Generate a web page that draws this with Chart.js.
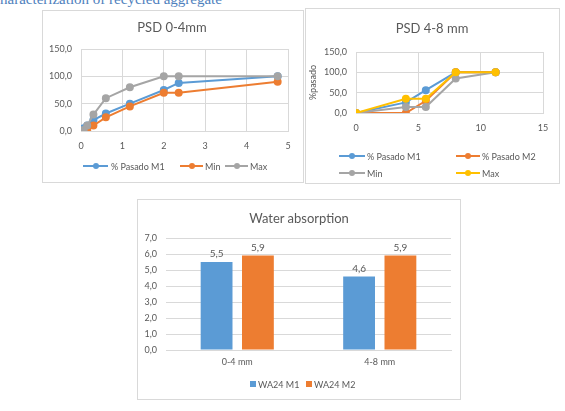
<!DOCTYPE html>
<html>
<head>
<meta charset="utf-8">
<script src="https://cdn.jsdelivr.net/npm/chart.js@4.4.1/dist/chart.umd.min.js"></script>
<style>
body { margin: 0; background: #fff; width: 565px; height: 411px; position: relative; overflow: hidden; font-family: Lato, sans-serif; color: #595959; }
.box { position: absolute; border: 1px solid #d9d9d9; box-sizing: border-box; background: #fff; }
.box canvas { position: absolute; left: 0; top: 0; }
.ttl { position: absolute; font-size: 13px; white-space: nowrap; transform: translate(-50%, -50%); }
.lg { position: absolute; font-size: 9px; white-space: nowrap; transform: translateY(-50%); }
#cap { position: absolute; left: 0; top: -8px; font: 15px "Liberation Serif", serif; line-height: 15px; color: #4f81bd; white-space: nowrap; }
</style>
</head>
<body>
<div id="cap">haracterization of recycled aggregate</div>

<div class="box" style="left:42px;top:10px;width:262px;height:173px"><canvas id="psd04" width="260" height="171"></canvas></div>
<div class="ttl" style="left:172px;top:27px">PSD 0-4mm</div>

<div class="box" style="left:305px;top:8px;width:255px;height:176px"><canvas id="psd48" width="253" height="174"></canvas></div>
<div class="ttl" style="left:432px;top:28px">PSD 4-8 mm</div>

<div class="box" style="left:137px;top:199px;width:324px;height:201px"><canvas id="absorcion" width="322" height="199"></canvas></div>
<div class="ttl" style="left:299px;top:218px">Water absorption</div>

<script>
// PSD 0-4mm
var tamiz04 = [0.063, 0.15, 0.3, 0.6, 1.18, 2, 2.36, 4.75];
var pasadoM1_04 = [5, 10, 20, 32, 50, 75, 88, 100];
var min04 = [0, 2, 10, 25, 45, 70, 70, 90];
var max04 = [2, 10, 30, 60, 80, 100, 100, 100];

// PSD 4-8 mm
var tamiz48 = [0, 4, 5.6, 8, 11.2];
var pasadoM1_48 = [0, 26, 56, 100, 100];
var pasadoM2_48 = [0, 0, 30, 100, 100];
var min48 = [0, 15, 15, 85, 100];
var max48 = [0, 35, 35, 100, 100];

// Water absorption
var categorias = ['0-4 mm', '4-8 mm'];
var wa24M1 = [5.5, 4.6];
var wa24M2 = [5.9, 5.9];

var azul = '#5b9bd5';
var naranja = '#ed7d31';
var gris = '#a5a5a5';
var amarillo = '#ffc000';
var rejilla = '#d9d9d9';
var fuente = { family: 'Lato', size: 9 };

function coma(v) {
  return Number(v).toFixed(1).replace('.', ',');
}

function serie(label, color, xs, ys, orden) {
  return {
    label: label,
    data: xs.map(function (x, i) { return { x: x, y: ys[i] }; }),
    borderColor: color,
    backgroundColor: color,
    showLine: true,
    borderWidth: 2,
    pointRadius: 3,
    pointHoverRadius: 3,
    order: orden
  };
}

function agregar(html) {
  document.body.insertAdjacentHTML('beforeend', html);
}

function itemLinea(x1, x2, y, color, texto, tx) {
  agregar('<div style="position:absolute;left:' + x1 + 'px;top:' + (y - 1) + 'px;width:' + (x2 - x1) + 'px;height:2px;background:' + color + '"></div>' +
    '<div style="position:absolute;left:' + ((x1 + x2) / 2 - 3) + 'px;top:' + (y - 3) + 'px;width:6px;height:6px;border-radius:50%;background:' + color + '"></div>' +
    '<div class="lg" style="left:' + tx + 'px;top:' + y + 'px">' + texto + '</div>');
}

function itemCuadro(x, y, color, texto, tx) {
  agregar('<div style="position:absolute;left:' + x + 'px;top:' + (y - 3) + 'px;width:6px;height:6px;background:' + color + '"></div>' +
    '<div class="lg" style="left:' + tx + 'px;top:' + y + 'px">' + texto + '</div>');
}

function ejes(xMax, xPaso, yMax, yPaso, anchoY, tituloY) {
  return {
    x: {
      type: 'linear', min: 0, max: xMax,
      ticks: { stepSize: xPaso, color: '#595959', font: fuente, padding: 10 },
      grid: { color: rejilla, drawTicks: false },
      border: { color: rejilla },
      afterFit: function (s) { s.height = 20; }
    },
    y: {
      min: 0, max: yMax,
      ticks: { stepSize: yPaso, color: '#595959', font: fuente, padding: 9, callback: coma },
      grid: { color: rejilla, drawTicks: false },
      border: { color: rejilla },
      title: tituloY ? { display: true, text: tituloY, color: '#595959', font: fuente, padding: { top: 1.5, bottom: 0 } } : { display: false },
      afterFit: function (s) { s.width = anchoY; }
    }
  };
}

var sinExtras = { legend: { display: false }, title: { display: false }, tooltip: { enabled: false } };

new Chart(document.getElementById('psd04'), {
  type: 'scatter',
  data: {
    datasets: [
      serie('% Pasado M1', azul, tamiz04, pasadoM1_04, 2),
      serie('Min', naranja, tamiz04, min04, 1),
      serie('Max', gris, tamiz04, max04, 0)
    ]
  },
  options: {
    responsive: false, animation: false,
    layout: { padding: { left: 0, right: 15, top: 38, bottom: 31 } },
    plugins: sinExtras,
    scales: ejes(5, 1, 150, 50, 38)
  }
});

new Chart(document.getElementById('psd48'), {
  type: 'scatter',
  data: {
    datasets: [
      serie('% Pasado M1', azul, tamiz48, pasadoM1_48, 3),
      serie('% Pasado M2', naranja, tamiz48, pasadoM2_48, 2),
      serie('Min', gris, tamiz48, min48, 1),
      serie('Max', amarillo, tamiz48, max48, 0)
    ]
  },
  options: {
    responsive: false, animation: false,
    layout: { padding: { left: 0, right: 16, top: 43, bottom: 50 } },
    plugins: sinExtras,
    scales: ejes(15, 5, 150, 50, 50, '%pasado')
  }
});

var etiquetas = {
  id: 'etiquetas',
  afterDatasetsDraw: function (chart) {
    var ctx = chart.ctx;
    ctx.save();
    ctx.font = '10px Lato';
    ctx.fillStyle = '#595959';
    ctx.textAlign = 'center';
    ctx.textBaseline = 'bottom';
    chart.data.datasets.forEach(function (ds, i) {
      chart.getDatasetMeta(i).data.forEach(function (barra, j) {
        ctx.fillText(coma(ds.data[j]), barra.x, barra.y - 3);
      });
    });
    ctx.restore();
  }
};

new Chart(document.getElementById('absorcion'), {
  type: 'bar',
  data: {
    labels: categorias,
    datasets: [
      { label: 'WA24 M1', data: wa24M1, backgroundColor: azul, categoryPercentage: 0.58, barPercentage: 0.77 },
      { label: 'WA24 M2', data: wa24M2, backgroundColor: naranja, categoryPercentage: 0.58, barPercentage: 0.77 }
    ]
  },
  options: {
    responsive: false, animation: false,
    layout: { padding: { left: 0, right: 9, top: 38, bottom: 29 } },
    plugins: sinExtras,
    scales: {
      x: {
        ticks: { color: '#595959', font: fuente, padding: 7 },
        grid: { display: false, drawTicks: false },
        border: { color: rejilla },
        afterFit: function (s) { s.height = 20; }
      },
      y: {
        min: 0, max: 7,
        ticks: { stepSize: 1, color: '#595959', font: fuente, padding: 9, callback: coma },
        grid: { color: rejilla, drawTicks: false },
        border: { display: false },
        afterFit: function (s) { s.width = 28; }
      }
    }
  },
  plugins: [etiquetas]
});

// leyendas
itemLinea(83, 108, 166, azul, '% Pasado M1', 111);
itemLinea(180, 203, 166, naranja, 'Min', 205);
itemLinea(225, 248, 166, gris, 'Max', 250);

itemLinea(339, 365, 156, azul, '% Pasado M1', 367);
itemLinea(456, 480, 156, naranja, '% Pasado M2', 482);
itemLinea(339, 365, 173, gris, 'Min', 367);
itemLinea(456, 480, 173, amarillo, 'Max', 482);

itemCuadro(250, 384, azul, 'WA24 M1', 258);
itemCuadro(306, 384, naranja, 'WA24 M2', 314);
</script>
</body>
</html>
